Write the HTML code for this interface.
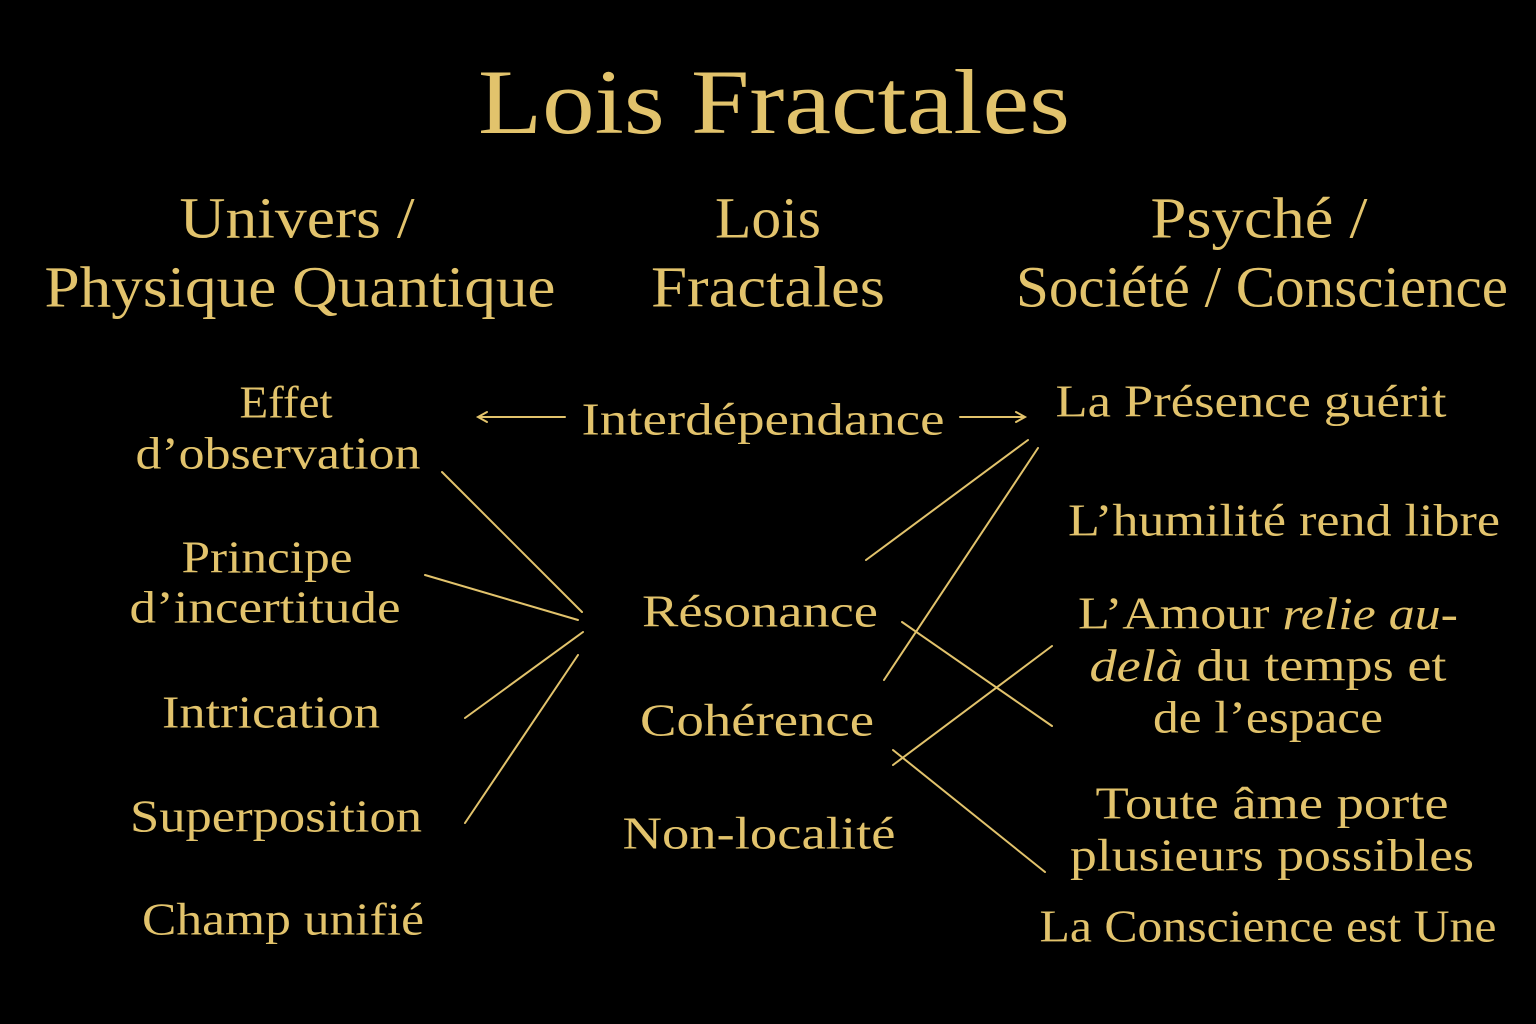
<!DOCTYPE html>
<html><head><meta charset="utf-8"><style>
html,body{margin:0;padding:0;background:#000;}
svg{display:block}
text{font-family:"Liberation Serif",serif;fill:#e2c36c;text-anchor:middle;dominant-baseline:central}
</style></head><body>
<svg width="1536" height="1024" viewBox="0 0 1536 1024" xmlns="http://www.w3.org/2000/svg">
<rect width="1536" height="1024" fill="#000"/>
<text x="774" y="102" font-size="92" textLength="592" lengthAdjust="spacingAndGlyphs">Lois Fractales</text>
<g font-size="58">
<text x="297" y="218" font-size="58" textLength="235" lengthAdjust="spacingAndGlyphs">Univers /</text>
<text x="300" y="287" font-size="58" textLength="511" lengthAdjust="spacingAndGlyphs">Physique Quantique</text>
<text x="768" y="218" font-size="58" textLength="106" lengthAdjust="spacingAndGlyphs">Lois</text>
<text x="768" y="287" font-size="58" textLength="234" lengthAdjust="spacingAndGlyphs">Fractales</text>
<text x="1259" y="218" font-size="58" textLength="217" lengthAdjust="spacingAndGlyphs">Psyché /</text>
<text x="1262" y="287" font-size="58" textLength="492" lengthAdjust="spacingAndGlyphs">Société / Conscience</text>
</g>
<g>
<text x="286" y="402" font-size="46" textLength="93" lengthAdjust="spacingAndGlyphs">Effet</text>
<text x="278" y="453" font-size="46" textLength="285" lengthAdjust="spacingAndGlyphs">d’observation</text>
<text x="267" y="557" font-size="46" textLength="171" lengthAdjust="spacingAndGlyphs">Principe</text>
<text x="265" y="607" font-size="46" textLength="271" lengthAdjust="spacingAndGlyphs">d’incertitude</text>
<text x="271" y="712" font-size="46" textLength="218" lengthAdjust="spacingAndGlyphs">Intrication</text>
<text x="276" y="816" font-size="46" textLength="292" lengthAdjust="spacingAndGlyphs">Superposition</text>
<text x="283" y="919" font-size="46" textLength="282" lengthAdjust="spacingAndGlyphs">Champ unifié</text>
<text x="763" y="419" font-size="46" textLength="363" lengthAdjust="spacingAndGlyphs">Interdépendance</text>
<text x="760" y="611" font-size="46" textLength="236" lengthAdjust="spacingAndGlyphs">Résonance</text>
<text x="757" y="720" font-size="46" textLength="234" lengthAdjust="spacingAndGlyphs">Cohérence</text>
<text x="759" y="833" font-size="46" textLength="273" lengthAdjust="spacingAndGlyphs">Non-localité</text>
<text x="1251" y="401" font-size="46" textLength="391" lengthAdjust="spacingAndGlyphs">La Présence guérit</text>
<text x="1284" y="520" font-size="46" textLength="432" lengthAdjust="spacingAndGlyphs">L’humilité rend libre</text>
<text x="1268" y="613" font-size="46" textLength="380" lengthAdjust="spacingAndGlyphs">L’Amour <tspan font-style="italic">relie au-</tspan></text>
<text x="1268" y="665" font-size="46" textLength="357" lengthAdjust="spacingAndGlyphs"><tspan font-style="italic">delà</tspan> du temps et</text>
<text x="1268" y="717" font-size="46" textLength="230" lengthAdjust="spacingAndGlyphs">de l’espace</text>
<text x="1272" y="803" font-size="46" textLength="353" lengthAdjust="spacingAndGlyphs">Toute âme porte</text>
<text x="1272" y="855" font-size="46" textLength="404" lengthAdjust="spacingAndGlyphs">plusieurs possibles</text>
<text x="1268" y="926" font-size="46" textLength="457" lengthAdjust="spacingAndGlyphs">La Conscience est Une</text>
</g>
<g stroke="#e2c36c" stroke-width="2" fill="none" stroke-linecap="round">
<line x1="565" y1="417" x2="479" y2="417"/>
<polyline points="487,412 478,417 487,422"/>
<line x1="960" y1="417" x2="1024" y2="417"/>
<polyline points="1016,412 1025,417 1016,422"/>
<line x1="442" y1="472" x2="582" y2="612"/>
<line x1="425" y1="575" x2="578" y2="620"/>
<line x1="465" y1="718" x2="583" y2="632"/>
<line x1="465" y1="823" x2="578" y2="655"/>
<line x1="866" y1="560" x2="1028" y2="440"/>
<line x1="884" y1="680" x2="1038" y2="448"/>
<line x1="902" y1="622" x2="1052" y2="726"/>
<line x1="893" y1="765" x2="1052" y2="646"/>
<line x1="893" y1="750" x2="1045" y2="872"/>
</g>
</svg>
</body></html>
